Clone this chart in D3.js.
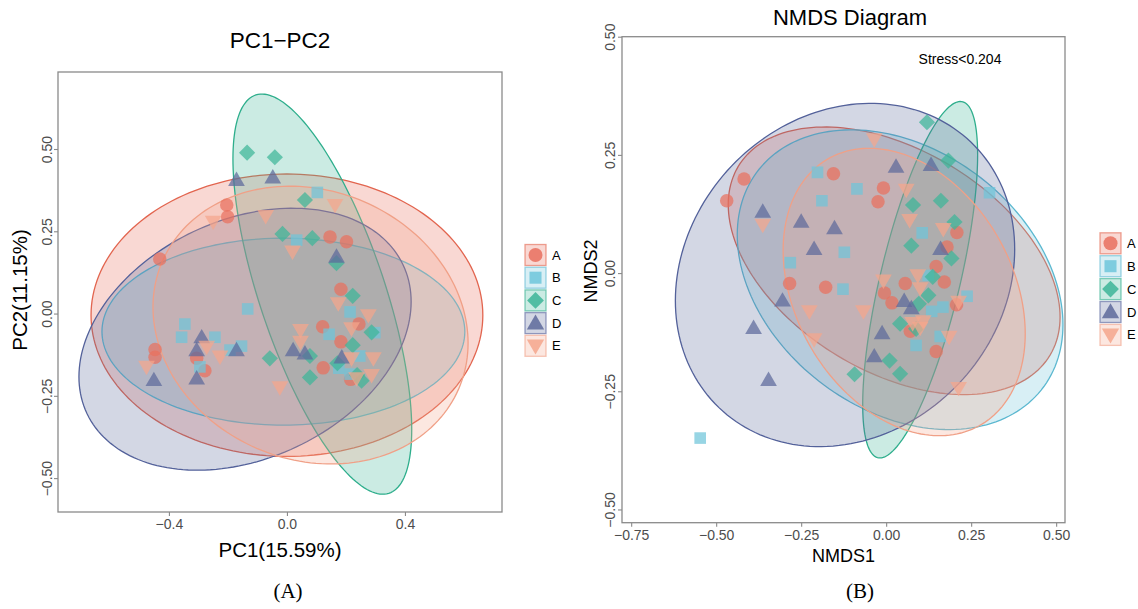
<!DOCTYPE html>
<html><head><meta charset="utf-8">
<script src="https://cdn.jsdelivr.net/npm/d3@7"></script>
<style>
body{margin:0;background:#fff}
text{font-family:"Liberation Sans",Arial,Helvetica,sans-serif}
</style>
</head><body>
<svg id="c" width="1138" height="609"></svg>
<script>
// ---------- data ----------
const groups = ["A","B","C","D","E"];

// PCA (left) sample scores [PC1, PC2]
const pcaA = [[-0.204,0.330],[-0.201,0.294],[-0.431,0.166],[0.146,0.233],[0.202,0.218],[0.183,0.074],[0.121,-0.040],[0.244,-0.032],[0.183,-0.086],[0.123,-0.165],[0.216,-0.200],[-0.447,-0.109],[-0.447,-0.133],[-0.278,-0.174],[-0.306,-0.136]];
const pcaB = [[0.103,0.368],[0.033,0.223],[-0.133,0.014],[-0.346,-0.032],[-0.357,-0.072],[-0.244,-0.072],[-0.193,-0.111],[-0.154,-0.099],[-0.295,-0.162],[0.214,0.005],[0.143,-0.063],[0.247,-0.129],[0.298,-0.058],[0.176,-0.166],[0.214,-0.184]];
const pcaC = [[-0.135,0.489],[-0.041,0.475],[0.061,0.345],[-0.015,0.242],[0.086,0.229],[0.168,0.153],[0.223,0.054],[0.287,-0.057],[0.223,-0.096],[0.078,-0.129],[0.171,-0.151],[0.078,-0.194],[0.253,-0.204],[-0.058,-0.136],[0.238,-0.187]];
const pcaD = [[-0.171,0.406],[-0.048,0.414],[0.168,0.173],[-0.289,-0.072],[-0.306,-0.111],[-0.171,-0.111],[-0.306,-0.197],[-0.451,-0.202],[0.021,-0.111],[0.061,-0.121],[0.186,-0.133]];
const pcaE = [[-0.250,0.279],[-0.072,0.296],[0.163,0.330],[0.019,0.188],[0.174,0.031],[0.276,-0.005],[0.046,-0.050],[0.046,-0.086],[0.219,-0.045],[-0.272,-0.101],[-0.476,-0.162],[-0.227,-0.131],[-0.024,-0.224],[0.219,-0.136],[0.293,-0.136],[0.287,-0.187],[0.236,-0.197]];
// PCA confidence ellipses: [centerX, centerY, halfWidthX, halfHeightY, correlation]
const pcaEllipses = [[0.000,-0.005,0.664,0.429,0.0],[-0.012,-0.055,0.615,0.284,0.0],[0.120,0.059,0.303,0.608,-0.676],[-0.142,-0.078,0.563,0.398,0.287],[0.080,-0.035,0.534,0.422,-0.13]];
const pcaXTicks = [-0.4,0.0,0.4];
const pcaYTicks = [-0.50,-0.25,0.00,0.25,0.50];

// NMDS (right) sample scores [NMDS1, NMDS2]
const nmA = [[-0.418,0.199],[-0.469,0.153],[-0.155,0.210],[-0.008,0.180],[-0.024,0.151],[0.208,0.086],[0.179,0.055],[0.147,0.014],[-0.284,-0.022],[-0.178,-0.030],[0.056,-0.022],[0.171,-0.019],[-0.005,-0.042],[0.017,-0.063],[0.207,-0.067],[0.071,-0.123],[0.147,-0.166]];
const nmB = [[-0.202,0.213],[-0.086,0.178],[-0.189,0.153],[0.304,0.170],[-0.123,0.044],[0.106,0.085],[-0.282,0.022],[-0.127,-0.034],[0.124,-0.005],[0.238,-0.049],[0.167,-0.072],[0.134,-0.081],[0.159,-0.134],[0.088,-0.153],[-0.547,-0.349]];
const nmC = [[0.120,0.319],[0.183,0.238],[0.079,0.144],[0.161,0.153],[0.201,0.108],[0.074,0.058],[0.192,0.031],[0.137,-0.008],[0.124,-0.047],[0.096,-0.065],[0.041,-0.107],[0.088,-0.118],[0.010,-0.185],[0.041,-0.213],[-0.093,-0.214]];
const nmD = [[-0.363,0.130],[0.029,0.225],[0.132,0.229],[-0.250,0.109],[-0.152,0.095],[-0.212,0.051],[0.160,0.051],[-0.305,-0.058],[0.053,-0.059],[0.074,-0.074],[-0.012,-0.127],[-0.035,-0.176],[-0.390,-0.116],[-0.346,-0.226]];
const nmE = [[-0.363,0.102],[-0.035,0.283],[0.059,0.176],[0.069,0.112],[0.168,0.093],[0.093,-0.005],[-0.008,-0.016],[0.100,-0.032],[0.213,-0.061],[-0.226,-0.081],[-0.067,-0.081],[-0.212,-0.140],[0.078,-0.106],[0.109,-0.102],[0.100,-0.116],[0.185,-0.135],[0.213,-0.243]];
const nmEllipses = [[0.0235,0.026,0.488,0.283,-0.42],[0.041,-0.014,0.479,0.317,-0.30],[0.100,-0.014,0.169,0.377,0.70],[-0.121,-0.004,0.499,0.363,0.15],[0.053,-0.040,0.356,0.304,-0.29]];
const nmXTicks = [-0.75,-0.50,-0.25,0.00,0.25,0.50];
const nmYTicks = [-0.50,-0.25,0.00,0.25,0.50];
const stressLabel = "Stress<0.204";

// ---------- style ----------
const pointColors  = ["#E9705E","#6FC5DA","#3DB598","#5D6A9B","#F5A68C"];
const strokeColors = ["#E2654F","#5CB8D0","#2EAE8C","#53619A","#F0A087"];
const axisColor = "#8a8a8a";
const tickTextColor = "#4d4d4d";

const svg = d3.select("#c");

function shapePath(i, s) {
  if (i === 0) { const r = s*0.5; return `M${r},0A${r},${r} 0 1,1 ${-r},0A${r},${r} 0 1,1 ${r},0Z`; }
  if (i === 1) { const h = s*0.43; return `M${-h},${-h}H${h}V${h}H${-h}Z`; }
  if (i === 2) { const h = s*0.6; return `M0,${-h}L${h},0L0,${h}L${-h},0Z`; }
  if (i === 3) { const w = s*0.62, t = s*0.62, b = s*0.45; return `M0,${-t}L${w},${b}L${-w},${b}Z`; }
  const w = s*0.62, t = s*0.45, b = s*0.62; return `M${-w},${-t}L${w},${-t}L0,${b}Z`;
}

function panel(cfg) {
  const x = d3.scaleLinear().domain(cfg.xDomain).range([cfg.left, cfg.right]);
  const y = d3.scaleLinear().domain(cfg.yDomain).range([cfg.bottom, cfg.top]);
  const g = svg.append("g");
  const clipId = "clip" + cfg.id;
  svg.append("clipPath").attr("id", clipId).append("rect")
    .attr("x", cfg.left).attr("y", cfg.top).attr("width", cfg.right-cfg.left).attr("height", cfg.bottom-cfg.top);
  const plot = g.append("g").attr("clip-path", `url(#${clipId})`);
  const line = d3.line().curve(d3.curveLinearClosed);
  cfg.ellipses.forEach((e, i) => {
    const [cx, cy, sx, sy, r] = e;
    const k = Math.sqrt(1 - r*r);
    const pts = d3.range(0, 360, 2).map(a => {
      const t = a*Math.PI/180;
      return [x(cx + sx*Math.cos(t)), y(cy + sy*(r*Math.cos(t) + k*Math.sin(t)))];
    });
    plot.append("path").attr("d", line(pts))
      .attr("fill", pointColors[i]).attr("fill-opacity", 0.27)
      .attr("stroke", strokeColors[i]).attr("stroke-width", 1.3);
  });
  cfg.points.forEach((arr, i) => {
    plot.selectAll(null).data(arr).enter().append("path")
      .attr("d", shapePath(i, 13.5))
      .attr("transform", d => `translate(${x(d[0])},${y(d[1])})`)
      .attr("fill", pointColors[i]).attr("fill-opacity", 0.72);
  });
  const xa = g.append("g").attr("transform", `translate(0,${cfg.bottom})`)
    .call(d3.axisBottom(x).tickValues(cfg.xTicks).tickFormat(d3.format(cfg.xFmt)).tickSize(4).tickSizeOuter(0));
  const ya = g.append("g").attr("transform", `translate(${cfg.left},0)`)
    .call(d3.axisLeft(y).tickValues(cfg.yTicks).tickFormat(d3.format(cfg.yFmt)).tickSize(4).tickSizeOuter(0));
  [xa, ya].forEach(a => {
    a.select(".domain").remove();
    a.selectAll("line").attr("stroke", axisColor).attr("stroke-width", 1.1);
    a.selectAll("text").attr("fill", tickTextColor).style("font-size", "14px");
  });
  ya.selectAll("text").attr("transform", "rotate(-90)").attr("x", 0).attr("y", -cfg.yLabGap).attr("dy", "0").attr("text-anchor", "middle");
  g.append("rect").attr("x", cfg.left).attr("y", cfg.top).attr("width", cfg.right-cfg.left).attr("height", cfg.bottom-cfg.top)
    .attr("fill", "none").attr("stroke", axisColor).attr("stroke-width", 1.3);
  const mid = (cfg.left + cfg.right)/2;
  g.append("text").attr("x", cfg.titleX).attr("y", cfg.titleY).attr("text-anchor", "middle").style("font-size", cfg.titleSize).text(cfg.title);
  g.append("text").attr("x", mid).attr("y", cfg.xLabY).attr("text-anchor", "middle").style("font-size", cfg.labSize).text(cfg.xLab);
  g.append("text").attr("transform", `translate(${cfg.yLabX},${cfg.yLabCY}) rotate(-90)`).attr("text-anchor", "middle").style("font-size", cfg.labSize).text(cfg.yLab);
  g.append("text").attr("x", cfg.tagX).attr("y", 598).attr("text-anchor", "middle")
    .style("font-family", "'Liberation Serif','Times New Roman',serif").style("font-size", "21px").text(cfg.tag);
  const lg = g.append("g");
  groups.forEach((name, i) => {
    const cy = cfg.legY + i*cfg.legStep;
    lg.append("rect").attr("x", cfg.legX).attr("y", cy-10.5).attr("width", 21).attr("height", 21)
      .attr("fill", pointColors[i]).attr("fill-opacity", 0.27).attr("stroke", strokeColors[i]).attr("stroke-opacity", 0.6).attr("stroke-width", 1.3);
    lg.append("path").attr("d", shapePath(i, 14)).attr("transform", `translate(${cfg.legX+10.5},${cy})`)
      .attr("fill", pointColors[i]).attr("fill-opacity", 0.85);
    lg.append("text").attr("x", cfg.legX + 27).attr("y", cy + 4.5).style("font-size", "13px").text(name);
  });
  return {x, y, g};
}

panel({
  id: "L", left: 58, right: 502, top: 72, bottom: 512,
  xDomain: [-0.776, 0.729], yDomain: [-0.603, 0.734],
  ellipses: pcaEllipses, points: [pcaA, pcaB, pcaC, pcaD, pcaE],
  xTicks: pcaXTicks, yTicks: pcaYTicks, xFmt: ".1f", yFmt: ".2f", yLabGap: 6,
  title: "PC1\u2212PC2", titleX: 280, titleY: 48, titleSize: "22.5px", labSize: "20.5px",
  xLab: "PC1(15.59%)", xLabY: 557, yLab: "PC2(11.15%)", yLabX: 27, yLabCY: 290,
  tag: "(A)", tagX: 288, legX: 525, legY: 255, legStep: 22.7
});

const R = panel({
  id: "R", left: 622, right: 1065, top: 36.7, bottom: 522.7,
  xDomain: [-0.777, 0.526], yDomain: [-0.528, 0.50],
  ellipses: nmEllipses, points: [nmA, nmB, nmC, nmD, nmE],
  xTicks: nmXTicks, yTicks: nmYTicks, xFmt: ".2f", yFmt: ".2f", yLabGap: 7,
  title: "NMDS Diagram", titleX: 850, titleY: 25, titleSize: "22px", labSize: "18px",
  xLab: "NMDS1", xLabY: 562, yLab: "NMDS2", yLabX: 597, yLabCY: 271,
  tag: "(B)", tagX: 860, legX: 1100, legY: 243.3, legStep: 22.9
});
R.g.append("text").attr("x", 960).attr("y", 64).attr("text-anchor", "middle").style("font-size", "14px").text(stressLabel);
</script>
</body></html>
